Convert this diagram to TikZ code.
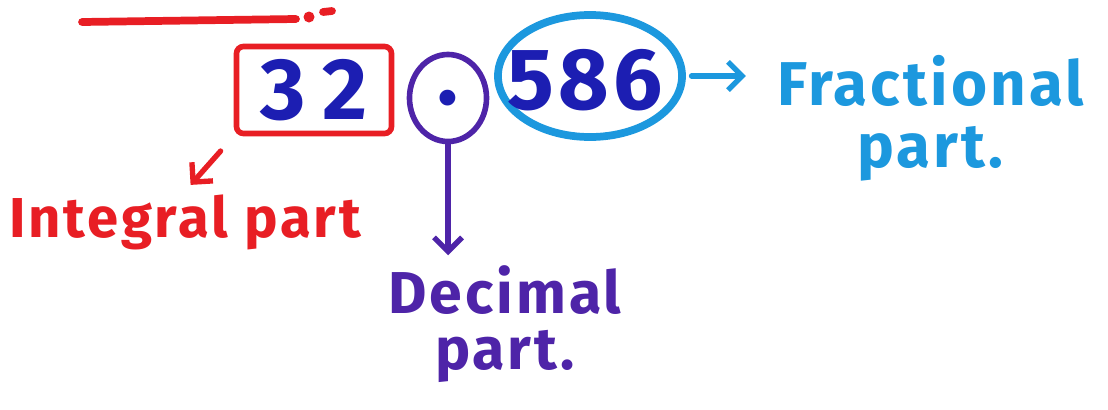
\documentclass[tikz,border=0pt]{standalone}
\usepackage{fontspec}
\setmainfont{Fira Sans}[LetterSpace=5]
\usepackage{tikz}
\usetikzlibrary{shapes.geometric,arrows.meta,positioning}
\definecolor{inkred}{RGB}{232,30,36}
\definecolor{inkblue}{RGB}{28,30,178}
\definecolor{inkviolet}{RGB}{78,36,168}
\definecolor{inkcyan}{RGB}{28,152,222}
\tikzset{
	numfont/.style={font=\fontsize{62}{64}\selectfont\bfseries, text=inkblue},
	partbox/.style={
		draw=inkred, line width=4pt, rectangle, rounded corners=5pt,
		minimum width=3.875cm, minimum height=2.175cm,
		inner sep=0pt, numfont
	},
	partring/.style={draw, ellipse, line width=4pt, inner sep=0pt, numfont},
	handlabel/.style={align=center, inner sep=2pt},
	ink_arrow/.style={-{Straight Barb[length=10pt,width=20pt]}, line width=3.8pt, line cap=round}
}
\begin{document}
\begin{tikzpicture}[x=0.025cm, y=-0.025cm]
	\useasboundingbox (0,0) rectangle (1108,409);
	% heading underline, cut off at the top
	\draw[inkred, line width=5.5pt, line cap=round] (82,22) -- (296,19);
	\fill[inkred] (309,17) circle (5.5);
	\draw[inkred, line width=5.5pt, line cap=round] (323,12) -- (332,11);
	\node[partbox] (intbox) at (314,90) {3\hspace{0.2em}2};
	\node[partring, draw=inkviolet, minimum width=1.925cm, minimum height=2.175cm] (dotring) at (448,98) {.};
	% digits sit a little below the middle of the ring
	\node[partring, draw=inkcyan, line width=5.5pt, minimum width=4.6cm, minimum height=3.05cm] (fracring) at (590,76) {\smash{\raisebox{-0.84cm}{\makebox[2cm]{\hspace{-0.25cm}586}}}};
	\node[handlabel, text=inkred, anchor=base, font=\fontsize{40}{44}\selectfont\bfseries] (intlabel) at (185,237) {Integral part};
	\node[handlabel, text=inkviolet, font=\fontsize{42}{40}\selectfont\bfseries] (declabel) at (505,324) {Decimal\\part.};
	\node[handlabel, text=inkcyan, anchor=west, font=\fontsize{44}{44}\selectfont\bfseries] (fraclabel) at (774,118) {Fractional\\part.};
	\draw[ink_arrow, inkred, shorten <=14pt, shorten >=6pt] (intbox.south west) -- (intlabel.north);
	\draw[ink_arrow, inkviolet, shorten >=5pt] (dotring.south) -- (dotring.south |- declabel.north);
	\draw[ink_arrow, inkcyan, shorten <=4pt, shorten >=20pt] (fracring.east) -- (fracring.east -| fraclabel.west);
\end{tikzpicture}
\end{document}
